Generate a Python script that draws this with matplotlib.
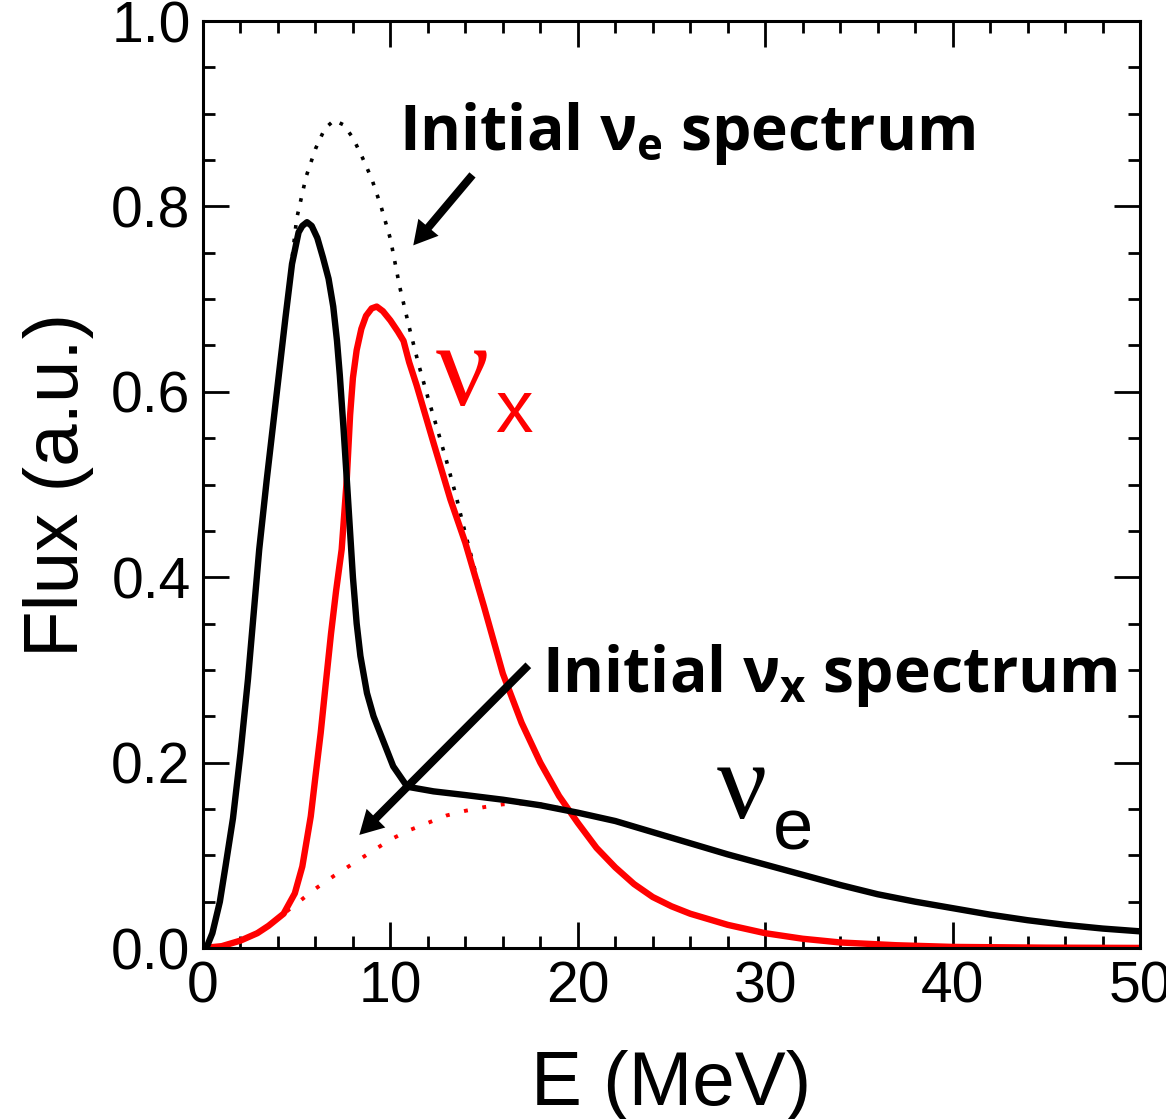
import matplotlib
matplotlib.use("Agg")
import matplotlib.pyplot as plt
from matplotlib.ticker import MultipleLocator

plt.rcParams['font.family'] = ['Liberation Sans', 'DejaVu Sans']
plt.rcParams['mathtext.fontset'] = 'custom'
plt.rcParams['mathtext.rm'] = 'Open Sans:bold'
plt.rcParams['mathtext.it'] = 'Open Sans:bold'
plt.rcParams['mathtext.bf'] = 'Open Sans:bold'

# initial nu_e spectrum (dotted black)
e_init_nue = [0, 0.5, 0.9, 1.2, 1.6, 2.0, 2.4, 2.7, 3.0, 3.4, 4.0, 4.5, 5.0, 5.5, 6.0,
              6.5, 7.0, 7.5, 8.0, 8.5, 9.0, 9.5, 10.0, 10.5, 11.0, 11.5, 12.0, 12.5,
              13.0, 13.5, 14.0, 15.0, 16.0, 17.0, 18.0, 19.0, 20.0, 21.0, 22.0, 23.0,
              24.0, 25.0, 26.0, 27.0, 28.0, 30.0, 32.0, 34.0, 37.0, 40.0, 45.0, 50.0]
f_init_nue = [0, 0.016, 0.05, 0.088, 0.14, 0.21, 0.29, 0.36, 0.43, 0.505, 0.61, 0.70,
              0.787, 0.832, 0.862, 0.884, 0.893, 0.888, 0.874, 0.853, 0.83, 0.8, 0.765,
              0.713, 0.67, 0.63, 0.594, 0.56, 0.525, 0.488, 0.447, 0.37, 0.296, 0.243,
              0.2, 0.164, 0.135, 0.108, 0.087, 0.069, 0.055, 0.045, 0.037, 0.031, 0.025,
              0.016, 0.01, 0.006, 0.003, 0.0012, 0.0004, 0.0001]

# initial nu_x spectrum (dotted red)
e_init_nux = [0, 1, 2, 3, 4, 5, 6, 7, 8, 9, 10, 11, 12, 13, 14, 15, 16, 17, 18, 19, 20,
              22, 24, 26, 28, 30, 32, 34, 36, 38, 40, 42, 44, 46, 48, 50]
f_init_nux = [0, 0.002, 0.008, 0.018, 0.032, 0.048, 0.064, 0.078, 0.091, 0.104, 0.117,
              0.127, 0.135, 0.143, 0.148, 0.152, 0.155, 0.156, 0.155, 0.151, 0.146,
              0.137, 0.125, 0.113, 0.101, 0.09, 0.079, 0.068, 0.058, 0.05, 0.043,
              0.036, 0.03, 0.025, 0.021, 0.018]

# final nu_x (solid red)
e_nux = [0, 1.0, 2.0, 2.9, 3.5, 4.3, 4.9, 5.3, 5.75, 6.0, 6.28, 6.55, 6.83, 7.1, 7.4,
         7.67, 7.85, 8.0, 8.2, 8.45, 8.7, 9.0, 9.27, 9.6, 10.0, 10.4, 10.7, 11.0, 11.4,
         12.3, 13.2, 14.0, 15.0, 16.0, 17.0, 18.0, 19.0, 20.0, 21.0, 22.0, 23.0, 24.0,
         25.0, 26.0, 27.0, 28.0, 30.0, 32.0, 34.0, 37.0, 40.0, 45.0, 50.0]
f_nux = [0, 0.002, 0.008, 0.016, 0.024, 0.037, 0.059, 0.088, 0.142, 0.185, 0.232, 0.285,
         0.339, 0.385, 0.43, 0.505, 0.575, 0.615, 0.645, 0.668, 0.682, 0.69, 0.692,
         0.687, 0.677, 0.665, 0.655, 0.632, 0.607, 0.545, 0.484, 0.437, 0.368, 0.296,
         0.243, 0.2, 0.164, 0.135, 0.108, 0.087, 0.069, 0.055, 0.045, 0.037, 0.031,
         0.025, 0.016, 0.01, 0.006, 0.003, 0.0012, 0.0004, 0.0001]

# final nu_e (solid black)
e_nue = [0, 0.2, 0.5, 0.9, 1.2, 1.6, 2.0, 2.4, 2.7, 3.0, 3.4, 4.0, 4.4, 4.75, 5.1, 5.3,
         5.55, 5.8, 6.1, 6.4, 6.7, 6.95, 7.15, 7.3, 7.5, 7.7, 8.0, 8.2, 8.4, 8.75, 9.1,
         9.45, 10.15, 10.9, 12.3, 14.0, 16.0, 18.0, 20.0, 22.0, 24.0, 26.0, 28.0, 30.0,
         32.0, 34.0, 36.0, 38.0, 40.0, 42.0, 44.0, 46.0, 48.0, 50.0]
f_nue = [0, 0.001, 0.016, 0.05, 0.088, 0.14, 0.21, 0.29, 0.36, 0.43, 0.505, 0.61, 0.68,
         0.738, 0.772, 0.779, 0.783, 0.779, 0.766, 0.745, 0.722, 0.692, 0.655, 0.618,
         0.56, 0.497, 0.40, 0.35, 0.315, 0.275, 0.25, 0.232, 0.196, 0.174, 0.169, 0.165,
         0.16, 0.154, 0.146, 0.137, 0.125, 0.113, 0.101, 0.09, 0.079, 0.068, 0.058,
         0.05, 0.043, 0.036, 0.03, 0.025, 0.021, 0.018]

fig = plt.figure(figsize=(11.66, 11.19), dpi=100)
ax = fig.add_axes([0.1741, 0.1528, 0.8036, 0.8284])

ax.plot(e_init_nue, f_init_nue, color='black', lw=2.6, ls=(0, (1, 2.8)))
ax.plot(e_init_nux, f_init_nux, color='red', lw=2.8, ls=(0, (1, 3.8)))
ax.plot(e_nux, f_nux, color='red', lw=4.6, solid_joinstyle='round')
ax.plot(e_nue, f_nue, color='black', lw=4.6, solid_joinstyle='round')

ax.set_xlim(0, 50)
ax.set_ylim(0, 1.0)
ax.xaxis.set_major_locator(MultipleLocator(10))
ax.xaxis.set_minor_locator(MultipleLocator(2))
ax.yaxis.set_major_locator(MultipleLocator(0.2))
ax.yaxis.set_minor_locator(MultipleLocator(0.05))
ax.tick_params(which='both', direction='in', top=True, right=True, width=2)
ax.tick_params(which='major', length=19, labelsize=41, pad=9)
ax.tick_params(which='minor', length=8.5)
for s in ax.spines.values():
    s.set_linewidth(2.2)

ax.set_xlabel('E (MeV)', fontsize=55)
ax.xaxis.set_label_coords(0.5, -0.169)
ax.xaxis.label.set_va('baseline')
ax.set_ylabel('Flux (a.u.)', fontsize=55)
ax.yaxis.set_label_coords(-0.133, 0.5)
ax.yaxis.label.set_va('baseline')

# annotations
ax.text(10.46, 0.861, r'Initial $\nu_{e}$ spectrum', fontsize=45,
        fontfamily='Open Sans', fontweight='bold', va='baseline')
ax.text(18.09, 0.276, r'Initial $\nu_{x}$ spectrum', fontsize=45,
        fontfamily='Open Sans', fontweight='bold', va='baseline')

arrow = dict(arrowstyle='simple,head_length=1.7,head_width=1.9,tail_width=0.58',
             color='black', lw=0, shrinkA=0, shrinkB=0, mutation_scale=10)
ax.annotate('', xy=(11.22, 0.758), xytext=(14.38, 0.834), arrowprops=arrow)
ax.annotate('', xy=(8.34, 0.122), xytext=(17.36, 0.305), arrowprops=arrow)

ax.text(12.4, 0.586, 'ν', fontfamily='Liberation Serif', fontsize=85, color='red',
        va='baseline')
ax.text(15.6, 0.557, 'x', fontfamily='Liberation Sans', fontsize=54, color='red',
        va='baseline')
ax.text(27.4, 0.140, 'ν', fontfamily='Liberation Serif', fontsize=80, color='black',
        va='baseline')
ax.text(30.4, 0.106, 'e', fontfamily='Liberation Sans', fontsize=52, color='black',
        va='baseline')

fig.savefig('out.png', dpi=100)
